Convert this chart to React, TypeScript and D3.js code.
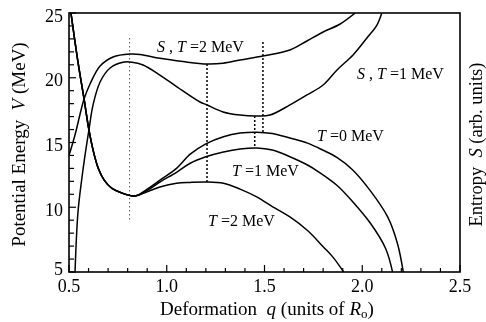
import { useEffect, useRef } from 'react';
import * as d3 from 'd3';

// descending branch shared by all three potential curves (small q)
const sharedQ = [0.51, 0.546, 0.577, 0.602, 0.625, 0.65, 0.68, 0.72, 0.77, 0.838];
const sharedV = [25, 21.2, 18.36, 15.97, 14.3, 13.0, 12.1, 11.45, 11.1, 10.87];

const t0Q = [0.9, 0.965, 1.05, 1.12, 1.2, 1.29, 1.375, 1.46, 1.54, 1.63, 1.72, 1.8, 1.87, 1.95, 2.04, 2.13, 2.18, 2.21];
const t0V = [11.4, 12.1, 13.0, 14.1, 14.9, 15.45, 15.73, 15.8, 15.7, 15.35, 14.95, 14.4, 13.85, 12.9, 11.3, 9.25, 7.2, 5];

const t1Q = [0.9, 0.965, 1.05, 1.12, 1.2, 1.29, 1.375, 1.46, 1.54, 1.63, 1.72, 1.78, 1.87, 1.95, 2.04, 2.12, 2.155];
const t1V = [11.3, 11.95, 12.7, 13.4, 13.9, 14.27, 14.5, 14.58, 14.42, 13.9, 13.26, 12.7, 11.7, 10.45, 8.8, 6.8, 5];

const t2Q = [0.9, 0.965, 1.05, 1.12, 1.2, 1.29, 1.375, 1.46, 1.54, 1.63, 1.72, 1.8, 1.85, 1.905];
const t2V = [11.2, 11.56, 11.85, 11.92, 11.95, 11.85, 11.4, 10.8, 10.05, 9.25, 8.2, 6.95, 6.15, 5];

// entropy curves (arb. units, drawn on the same scale)
const s2Q = [0.5, 0.531, 0.577, 0.607, 0.659, 0.725, 0.812, 0.863, 0.965, 1.083, 1.206, 1.288, 1.375, 1.492, 1.63, 1.717, 1.8, 1.887, 1.964];
const s2V = [14.0, 15.6, 18.36, 19.5, 20.9, 21.6, 21.83, 21.8, 21.5, 21.25, 21.06, 21.12, 21.37, 21.68, 22.14, 22.84, 23.53, 24.15, 25];

const s1Q = [0.531, 0.546, 0.566, 0.582, 0.602, 0.623, 0.659, 0.71, 0.776, 0.822, 0.879, 0.965, 1.052, 1.17, 1.206, 1.288, 1.375, 1.462, 1.528, 1.63, 1.717, 1.8, 1.871, 1.953, 2.024, 2.075, 2.1];
const s1V = [5.08, 9.63, 12.26, 14.03, 15.97, 17.9, 19.67, 20.75, 21.2, 21.2, 20.98, 20.2, 19.3, 18.13, 17.9, 17.36, 17.12, 17.05, 17.12, 17.9, 18.67, 19.44, 20.6, 21.76, 23.07, 24.07, 25];

// vertical dotted markers
const markQ = [0.81, 1.206, 1.45, 1.492];
const markFrom = [23.07, 21.06, 17.05, 22.76];
const markTo = [9.0, 11.95, 14.58, 15.73];

const xTicks = ['0.5', '1.0', '1.5', '2.0', '2.5'];
const yTicks = ['5', '10', '15', '20', '25'];

const zip = (q: number[], v: number[]) => q.map((d, i) => [d, v[i]] as [number, number]);

const App = () => {
  const svgRef = useRef<SVGSVGElement>(null);

  useEffect(() => {
    const svg = d3.select(svgRef.current);
    svg.selectAll('*').remove();

    const width = 486;
    const height = 322;
    const margin = { top: 13, right: 26, bottom: 50, left: 69 };
    const font = "'Liberation Serif', 'Times New Roman', serif";

    const x = d3.scaleLinear().domain([0.5, 2.5]).range([margin.left, width - margin.right]);
    const y = d3.scaleLinear().domain([5, 25]).range([height - margin.bottom, margin.top]);

    svg.attr('width', width).attr('height', height);

    svg.append('defs').append('clipPath').attr('id', 'plot')
      .append('rect')
      .attr('x', x(0.5)).attr('y', y(25))
      .attr('width', x(2.5) - x(0.5)).attr('height', y(5) - y(25));

    // minor + major ticks, inside
    const minorX = d3.range(5, 26).map((d) => d / 10);
    svg.append('g').selectAll('line').data(minorX).enter().append('line')
      .attr('x1', (d) => x(d)).attr('x2', (d) => x(d))
      .attr('y1', y(5)).attr('y2', (d) => y(5) - (Math.round(d * 10) % 5 === 0 ? 7 : 4))
      .attr('stroke', '#000').attr('stroke-width', 1.2);

    const minorY = d3.range(5, 26);
    svg.append('g').selectAll('line').data(minorY).enter().append('line')
      .attr('y1', (d) => y(d)).attr('y2', (d) => y(d))
      .attr('x1', x(0.5)).attr('x2', (d) => x(0.5) + (d % 5 === 0 ? 7 : 5))
      .attr('stroke', '#000').attr('stroke-width', 1.2);

    svg.append('rect')
      .attr('x', x(0.5)).attr('y', y(25))
      .attr('width', x(2.5) - x(0.5)).attr('height', y(5) - y(25))
      .attr('fill', 'none').attr('stroke', '#000').attr('stroke-width', 1.6);

    // tick labels
    svg.append('g').selectAll('text').data(xTicks).enter().append('text')
      .attr('x', (d) => x(+d)).attr('y', y(5) + 20)
      .attr('text-anchor', 'middle').attr('font-family', font).attr('font-size', 18)
      .text((d) => d);

    svg.append('g').selectAll('text').data(yTicks).enter().append('text')
      .attr('x', x(0.5) - 6).attr('y', (d) => y(+d) + (d === '5' ? 3 : 8.5))
      .attr('text-anchor', 'end').attr('font-family', font).attr('font-size', 18)
      .text((d) => d);

    // dotted markers
    svg.append('g').selectAll('line').data(markQ).enter().append('line')
      .attr('x1', (d) => x(d)).attr('x2', (d) => x(d))
      .attr('y1', (_, i) => y(markFrom[i])).attr('y2', (_, i) => y(markTo[i]))
      .attr('stroke', (_, i) => (i === 0 ? '#555' : '#000'))
      .attr('stroke-width', (_, i) => (i === 0 ? 1 : 1.5))
      .attr('stroke-dasharray', (_, i) => (i === 0 ? '1.5,2.5' : '2,2'));

    // curves
    const line = d3.line<[number, number]>()
      .x((d) => x(d[0]))
      .y((d) => y(d[1]))
      .curve(d3.curveCatmullRom.alpha(0.5));

    const shared = zip(sharedQ, sharedV);
    const curves = [
      shared.concat(zip(t0Q, t0V)),
      shared.concat(zip(t1Q, t1V)),
      shared.concat(zip(t2Q, t2V)),
      zip(s2Q, s2V),
      zip(s1Q, s1V),
    ];

    svg.append('g').attr('clip-path', 'url(#plot)')
      .selectAll('path').data(curves).enter().append('path')
      .attr('d', (d) => line(d))
      .attr('fill', 'none').attr('stroke', '#000').attr('stroke-width', 1.5);

    // curve labels
    const labels = [
      { x: 157, y: 52, s: true, t: '=2 MeV' },
      { x: 357, y: 79, s: true, t: '=1 MeV' },
      { x: 317, y: 141, s: false, t: '=0 MeV' },
      { x: 232, y: 176, s: false, t: '=1 MeV' },
      { x: 208, y: 226, s: false, t: '=2 MeV' },
    ];
    labels.forEach((l) => {
      const t = svg.append('text').attr('x', l.x).attr('y', l.y)
        .attr('font-family', font).attr('font-size', 16).attr('xml:space', 'preserve');
      if (l.s) {
        t.append('tspan').attr('font-style', 'italic').text('S');
        t.append('tspan').text(' , ');
      }
      t.append('tspan').attr('font-style', 'italic').text('T');
      t.append('tspan').text(' ' + l.t);
    });

    // axis titles
    const yl = svg.append('text')
      .attr('transform', `translate(25, ${(y(5) + y(25)) / 2 + 2}) rotate(-90)`)
      .attr('text-anchor', 'middle').attr('font-family', font).attr('font-size', 19)
      .attr('xml:space', 'preserve');
    yl.append('tspan').text('Potential Energy  ');
    yl.append('tspan').attr('font-style', 'italic').text('V');
    yl.append('tspan').text(' (MeV)');

    const yr = svg.append('text')
      .attr('transform', `translate(482, ${(y(5) + y(25)) / 2 + 2}) rotate(-90)`)
      .attr('text-anchor', 'middle').attr('font-family', font).attr('font-size', 18.5)
      .attr('xml:space', 'preserve');
    yr.append('tspan').text('Entropy  ');
    yr.append('tspan').attr('font-style', 'italic').text('S');
    yr.append('tspan').text(' (arb. units)');

    const xl = svg.append('text')
      .attr('x', 160).attr('y', 315)
      .attr('font-family', font).attr('font-size', 19)
      .attr('xml:space', 'preserve');
    xl.append('tspan').text('Deformation  ');
    xl.append('tspan').attr('font-style', 'italic').text('q');
    xl.append('tspan').text(' (units of ');
    xl.append('tspan').attr('font-style', 'italic').text('R');
    xl.append('tspan').attr('font-size', 13).attr('dy', 3).text('o');
    xl.append('tspan').attr('dy', -3).text(')');
  }, []);

  return (
    <div style={{ position: 'fixed', left: 0, top: 0 }}>
      <svg ref={svgRef} style={{ display: 'block' }}></svg>
    </div>
  );
};

export default App;
